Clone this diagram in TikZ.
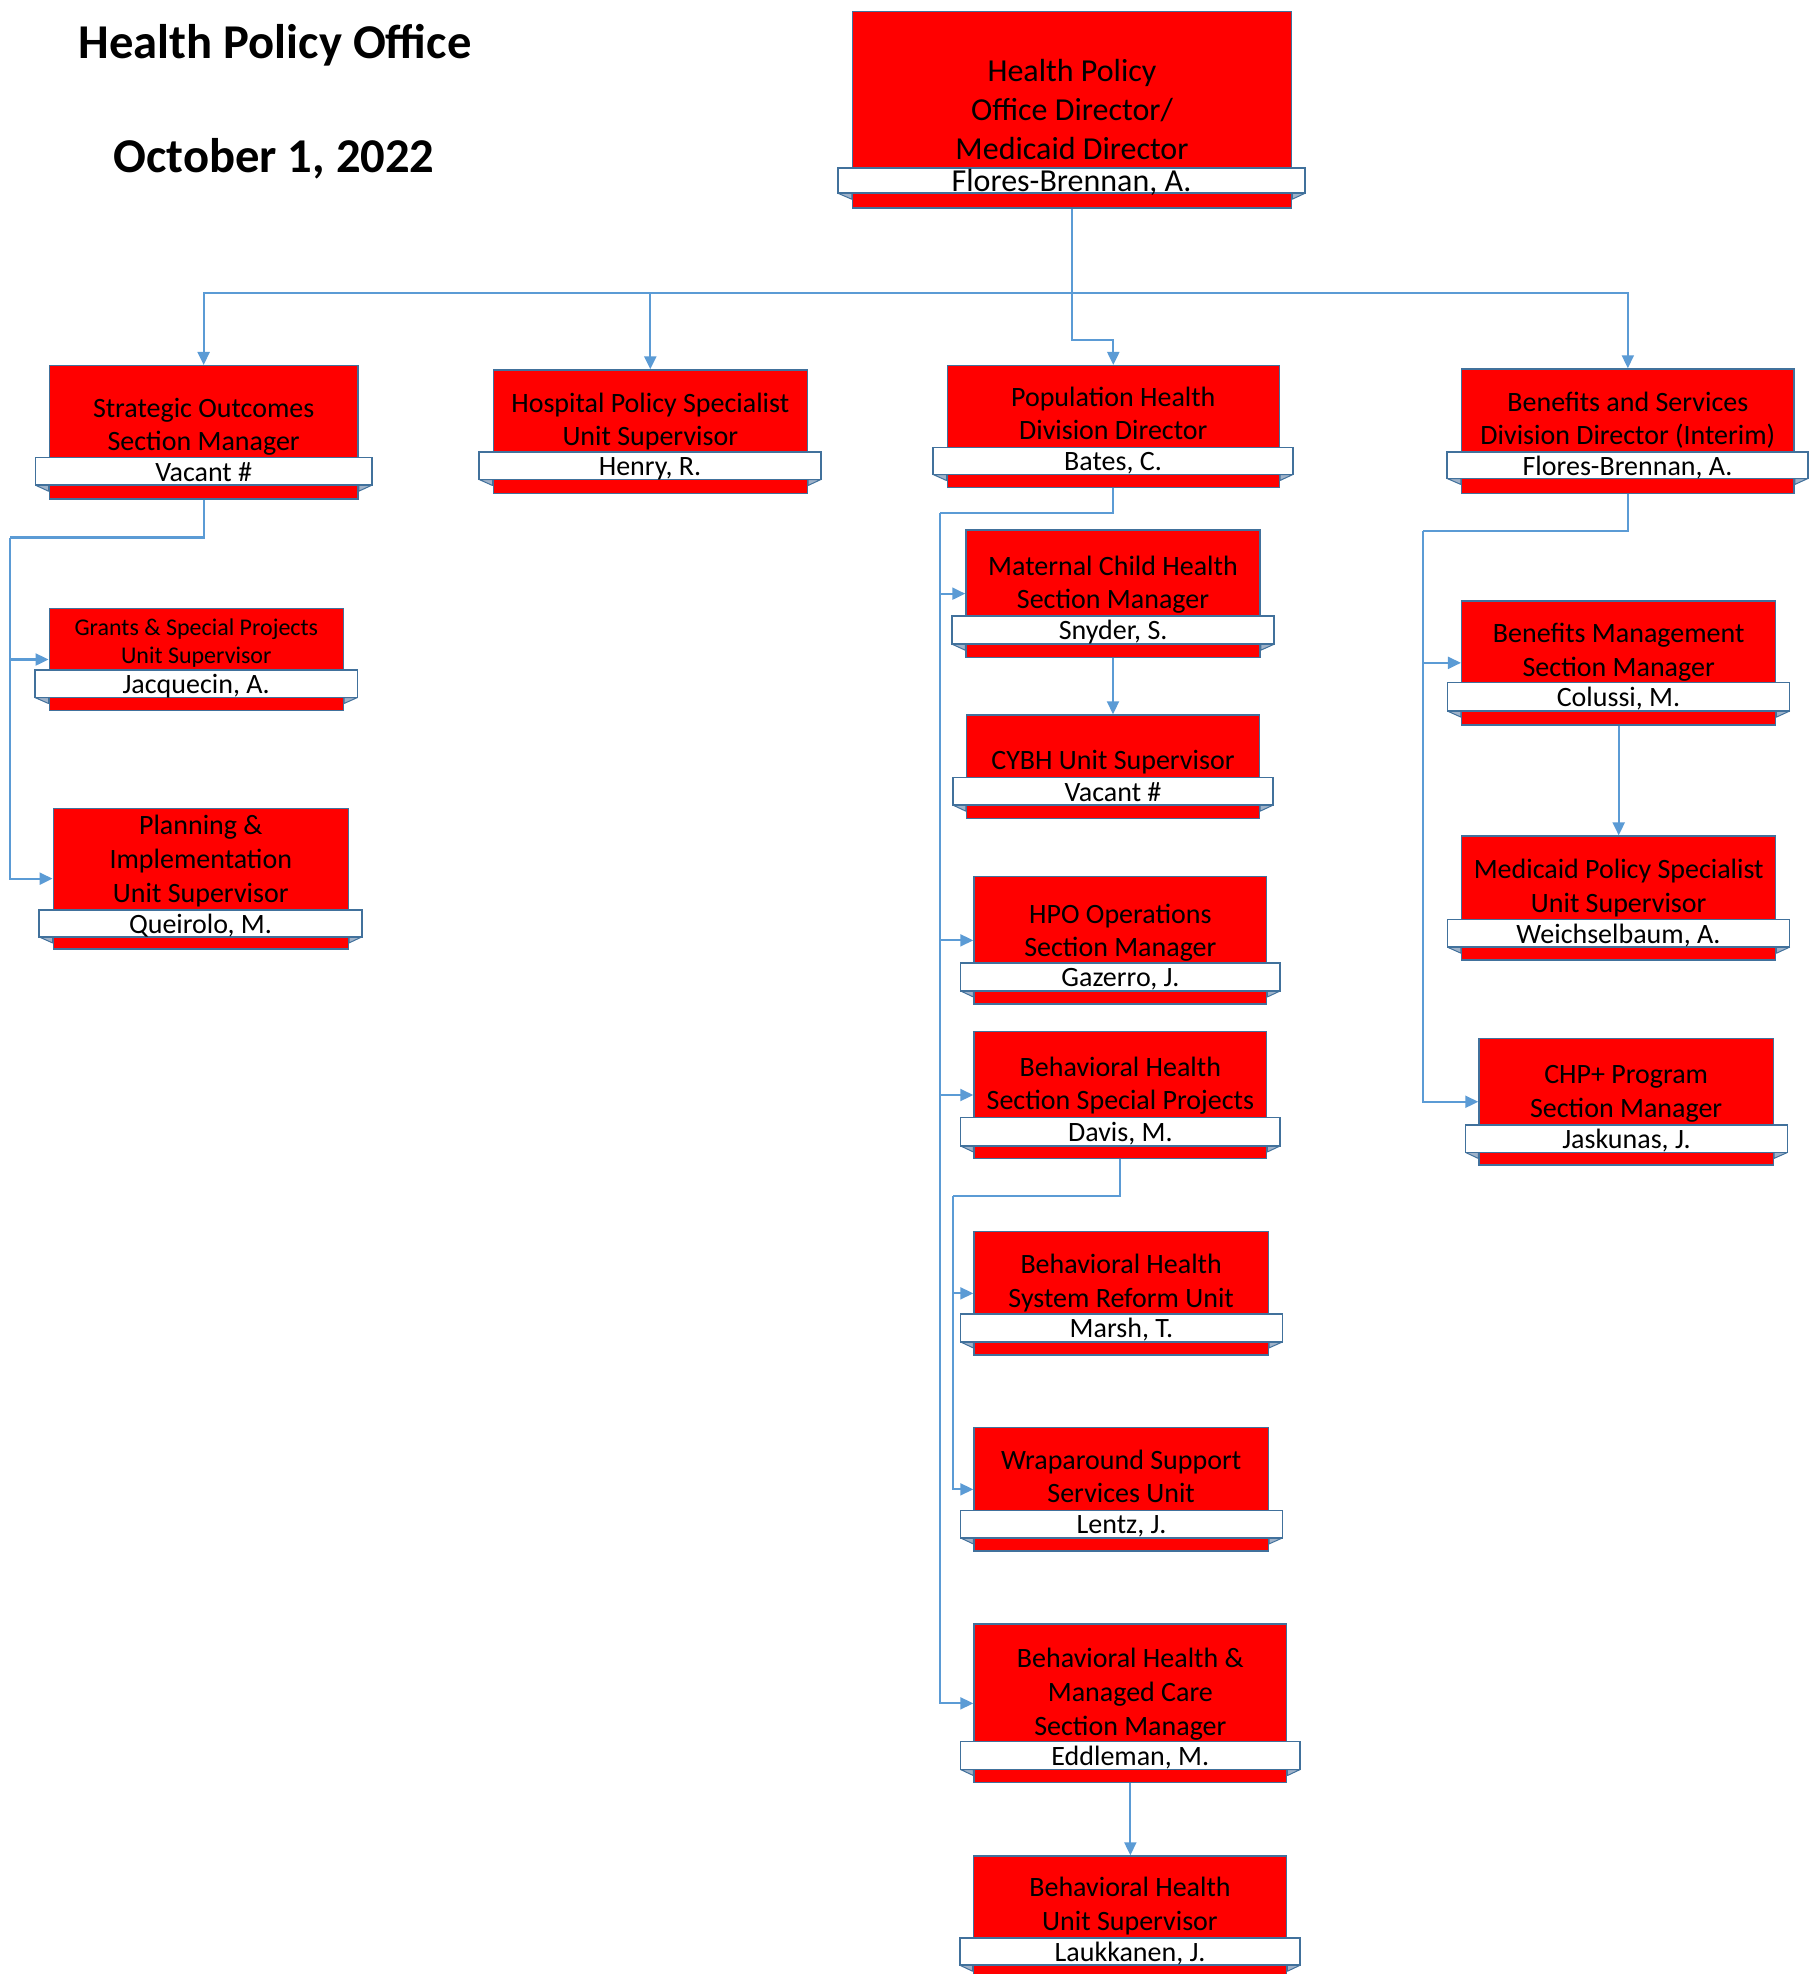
\documentclass[tikz,border=0pt]{standalone}
\usepackage{fontspec}
\setmainfont{Carlito}
\usetikzlibrary{fit,arrows.meta}
\definecolor{boxred}{RGB}{255,0,0}
\definecolor{edgec}{RGB}{65,113,156}
\definecolor{linec}{RGB}{91,155,213}
\definecolor{foldc}{RGB}{160,178,200}
\newcommand\tstrut{\rule{0pt}{0.8em}}
\newcommand\bstrut{\rule[-0.25em]{0pt}{0.25em}}
\def\tfs{28}\def\tbs{33.8}\def\nfs{28}
\tikzset{
  redbox/.style={draw=edgec, fill=boxred, line width=1.5pt, inner sep=0pt},
  ribgeom/.style={inner sep=0pt},
  ribbon/.style={draw=edgec, fill=white, line width=1.8pt},
  foldtri/.style={fill=foldc, draw=edgec, line width=1pt, line join=round},
  ttext/.style={align=center, inner sep=0pt, yshift=-2pt, font=\fontsize{\tfs}{\tbs}\selectfont},
  ntext/.style={inner sep=0pt, yshift=-2pt, font=\fontsize{\nfs}{\nfs}\selectfont},
  conn/.style={draw=linec, line width=2.2pt},
  arr/.style={conn, -{Triangle[length=13pt,width=12pt]}},
  headtext/.style={anchor=base, inner sep=0pt, font=\bfseries\fontsize{48.6}{58}\selectfont},
}
% #1 name, #2 #3 red corners, #4 #5 ribbon corners, #6 title, #7 title centre y, #8 person
\newcommand\orgunit[8]{%
  \node[redbox, fit={(#2) (#3)}] (#1) {};
  \path node[ribgeom, fit={(#4) (#5)}] (#1n) {};
  \coordinate (#1fl) at (#1n.south west -| #1.west);
  \coordinate (#1fr) at (#1n.south east -| #1.east);
  \filldraw[foldtri] (#1n.south west) -- (#1fl) -- ([yshift=-6pt]#1fl) -- cycle;
  \filldraw[foldtri] (#1n.south east) -- (#1fr) -- ([yshift=-6pt]#1fr) -- cycle;
  \draw[ribbon] (#1n.north west) rectangle (#1n.south east);
  \coordinate (#1ty) at (0,#7);
  \node[ttext] (#1t) at (#1.center |- #1ty) {\tstrut #6\bstrut};
  \node[ntext] (#1p) at (#1n.center) {\tstrut #8\bstrut};
}
\begin{document}
\begin{tikzpicture}[x=1pt,y=-1pt]
\path[use as bounding box, fill=white] (0,0) rectangle (1814,1974);

\node[headtext] (title1) at (275,58) {Health Policy Office};
\node[headtext] (title2) at (274,172) {October 1, 2022};

\def\tfs{32}\def\tbs{38.7}\def\nfs{32}
\orgunit{dir}{852.5,11.7}{1291.5,208}{838,168}{1305,193}{Health Policy\\Office Director/\\Medicaid Director}{109.5}{Flores-Brennan, A.}
\def\tfs{28}\def\tbs{33.8}\def\nfs{28}
\orgunit{so}{49.3,365.7}{358,499}{35.7,457.7}{371.7,485}{Strategic Outcomes\\Section Manager}{424.3}{Vacant \#}
\orgunit{hp}{493.3,370}{807.3,493.3}{479.3,452.3}{820.7,479.3}{Hospital Policy Specialist\\Unit Supervisor}{419.3}{Henry, R.}
\orgunit{ph}{947.3,365.7}{1279.3,487.7}{933.3,447.7}{1292.7,474.3}{Population Health\\Division Director}{413.3}{Bates, C.}
\orgunit{bs}{1461.7,369}{1794,493.3}{1447.3,452.3}{1807.7,478.3}{Benefits and Services\\Division Director (Interim)}{418.3}{Flores-Brennan, A.}
\def\tfs{24}\def\tbs{28.3}
\orgunit{gs}{49.3,608.3}{343.3,710.7}{35,670}{357.3,697.3}{Grants \& Special Projects\\Unit Supervisor}{640.8}{Jacquecin, A.}
\def\tfs{28}\def\tbs{33.8}
\orgunit{pi}{53.3,808.3}{348.3,949}{39.3,910}{361.7,936.7}{Planning \&\\Implementation\\Unit Supervisor}{858.8}{Queirolo, M.}
\orgunit{mch}{966,530}{1260,657.3}{952.3,616}{1274,644}{Maternal Child Health\\Section Manager}{582.2}{Snyder, S.}
\orgunit{cybh}{966.7,715}{1259.3,818.3}{953.3,777.7}{1272.7,805}{CYBH Unit Supervisor}{760}{Vacant \#}
\orgunit{hpo}{974,876.7}{1266.7,1004}{960.7,963.3}{1280,990.7}{HPO Operations\\Section Manager}{930.3}{Gazerro, J.}
\orgunit{bhsp}{974,1031.7}{1266.7,1158.3}{960.7,1117.7}{1280,1145.7}{Behavioral Health\\Section Special Projects}{1083.3}{Davis, M.}
\orgunit{bhsr}{974,1231.7}{1268.3,1355}{960.7,1314}{1282.3,1341.7}{Behavioral Health\\System Reform Unit}{1280.7}{Marsh, T.}
\orgunit{wss}{974,1427.7}{1268.3,1551}{960.7,1510.7}{1282.3,1537.7}{Wraparound Support\\Services Unit}{1476.3}{Lentz, J.}
\orgunit{bhmc}{974,1624}{1286.7,1782.7}{960.7,1741.7}{1300,1769.3}{Behavioral Health \&\\Managed Care\\Section Manager}{1691.7}{Eddleman, M.}
\orgunit{bhu}{973.3,1856}{1286.7,1990}{960,1938.3}{1300,1965}{Behavioral Health\\Unit Supervisor}{1903.7}{Laukkanen, J.}
\orgunit{bm}{1461.7,600.9}{1775.7,724.8}{1447.7,682.6}{1789.3,710.9}{Benefits Management\\Section Manager}{649.4}{Colussi, M.}
\orgunit{mps}{1461.7,836.1}{1775.7,960}{1447.7,919.6}{1789.3,947}{Medicaid Policy Specialist\\Unit Supervisor}{885.5}{Weichselbaum, A.}
\orgunit{chp}{1479,1038.3}{1773.3,1165.2}{1465.7,1125.2}{1787.3,1152.2}{CHP+ Program\\Section Manager}{1090.9}{Jaskunas, J.}

% connectors
\coordinate (bus) at (0,293.3);
\draw[conn] (dir.south) -- (dir.south |- bus);
\draw[arr] (dir.south |- bus) -| (so.north);
\draw[arr] (dir.south |- bus) -| (hp.north);
\draw[arr] (dir.south |- bus) -| (bs.north);
\coordinate (phk) at (1113.3,340);
\draw[arr] (dir.south) |- (phk) -- (ph.north);

\coordinate (sol) at (10,537.5);
\draw[conn] (so.south) |- (sol);
\draw[arr] (sol) |- (gs.west);
\draw[arr] (sol) |- (pi.west);

\coordinate (phl) at (940,513.3);
\draw[conn] (ph.south) |- (phl);
\draw[arr] (phl) |- (mch.west);
\draw[arr] (phl) |- (hpo.west);
\draw[arr] (phl) |- (bhsp.west);
\draw[arr] (phl) |- (bhmc.west);
\draw[arr] (mch.south) -- (cybh.north);

\coordinate (bhl) at (952.7,1196);
\draw[conn] (bhsp.south) |- (bhl);
\draw[arr] (bhl) |- (bhsr.west);
\draw[arr] (bhl) |- (wss.west);
\draw[arr] (bhmc.south) -- (bhmc.south |- bhu.north);

\coordinate (bsl) at (1422.7,531.3);
\draw[conn] (bs.south) |- (bsl);
\draw[arr] (bsl) |- (bm.west);
\draw[arr] (bsl) |- (chp.west);
\draw[arr] (bm.south) -- (mps.north);
\end{tikzpicture}
\end{document}
